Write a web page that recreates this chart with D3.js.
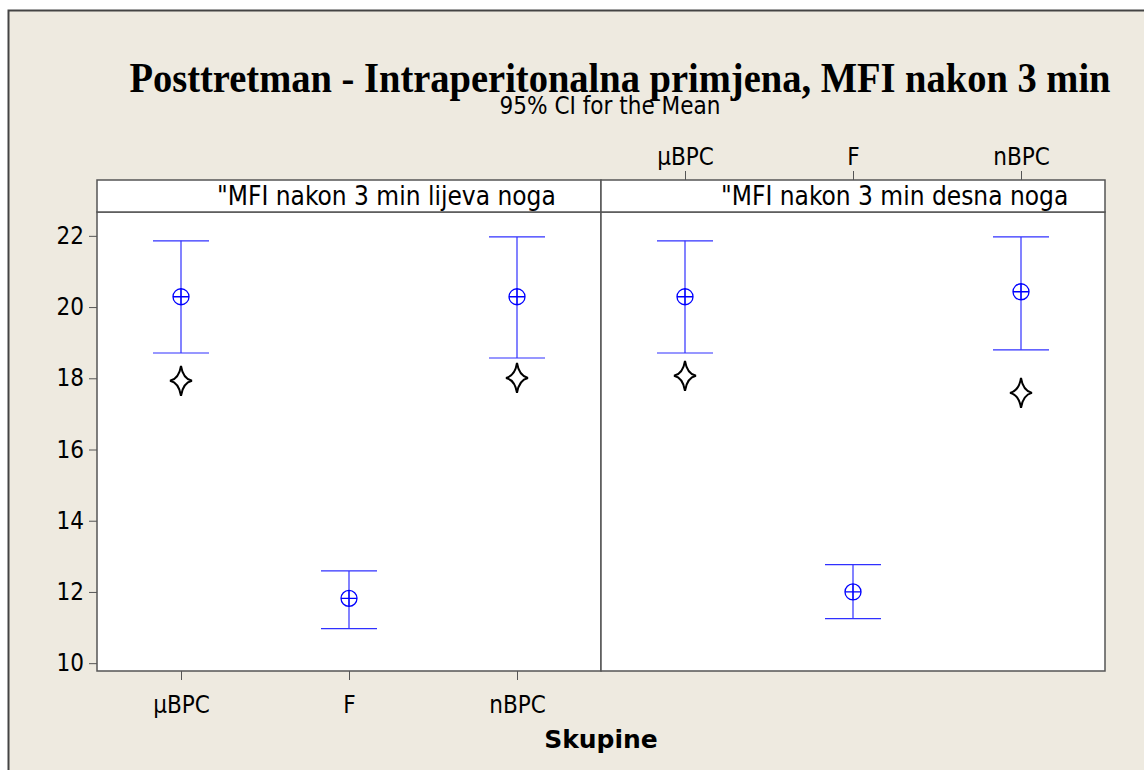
<!DOCTYPE html>
<html>
<head>
<meta charset="utf-8">
<script src="https://cdn.jsdelivr.net/npm/d3@7"></script>
<style>
html,body{margin:0;padding:0;background:#fff;overflow:hidden;}
svg{display:block;}
svg text{font-family:"DejaVu Sans Condensed","DejaVu Sans",sans-serif;}
</style>
</head>
<body>
<div id="chart"></div>
<script>
// chart data
var groups = ["\u00b5BPC", "F", "nBPC"];
var panelNames = ["\"MFI nakon 3 min lijeva noga", "\"MFI nakon 3 min desna noga"];
var leftMean = [20.29, 11.82, 20.29];
var leftLow = [18.71, 10.97, 18.57];
var leftHigh = [21.86, 12.59, 21.97];
var leftStar = [17.93, null, 18.01];
var rightMean = [20.29, 12.0, 20.43];
var rightLow = [18.71, 11.25, 18.80];
var rightHigh = [21.86, 12.77, 21.97];
var rightStar = [18.07, null, 17.59];
var yTicks = [10, 12, 14, 16, 18, 20, 22];

var W = 1144, H = 770;
var bg = "#EEEAE0";
var frame = "#555555";
var ciColor = "#3030ff";

var svg = d3.select("#chart").append("svg")
	.attr("width", W).attr("height", H);

// background and outer frame (only left and top edges are visible)
svg.append("rect").attr("x", 0).attr("y", 0).attr("width", W).attr("height", H).attr("fill", "#fff");
svg.append("rect").attr("x", 8).attr("y", 10).attr("width", W - 8).attr("height", H - 10).attr("fill", bg);
svg.append("path").attr("d", "M8.5," + H + "V10.5H" + W)
	.attr("fill", "none").attr("stroke", "#444").attr("stroke-width", 2);

var plotTop = 212, plotBottom = 671, stripTop = 180;
var panelX = [97, 601];
var panelW = 504;

var y = d3.scaleLinear().domain([9.78, 22.67]).range([plotBottom, plotTop]);

// titles
svg.append("text").attr("transform", "translate(620,92) scale(0.917,1)")
	.attr("text-anchor", "middle")
	.style("font-family", "'Liberation Serif','Times New Roman',serif")
	.style("font-weight", "bold").style("font-size", "42px")
	.text("Posttretman - Intraperitonalna primjena, MFI nakon 3 min");
svg.append("text").attr("x", 610).attr("y", 114).attr("text-anchor", "middle")
	.style("font-size", "24px")
	.text("95% CI for the Mean");

var panels = [
	{name: panelNames[0], mean: leftMean, lo: leftLow, hi: leftHigh, star: leftStar},
	{name: panelNames[1], mean: rightMean, lo: rightLow, hi: rightHigh, star: rightStar}
];

panels.forEach(function(p, k){
	var x0 = panelX[k];
	var x = d3.scalePoint().domain(groups).range([x0, x0 + panelW]).padding(0.5);
	var g = svg.append("g");

	// panel + strip
	g.append("rect").attr("x", x0).attr("y", plotTop).attr("width", panelW).attr("height", plotBottom - plotTop)
		.attr("fill", "#fff").attr("stroke", frame).attr("stroke-width", 1.5);
	g.append("rect").attr("x", x0).attr("y", stripTop).attr("width", panelW).attr("height", plotTop - stripTop)
		.attr("fill", "#fff").attr("stroke", frame).attr("stroke-width", 1.5);
	g.append("text").attr("x", x0 + 120).attr("y", plotTop - 7)
		.style("font-size", "26px").text(p.name);

	var rows = groups.map(function(d, i){
		return {g: d, m: p.mean[i], lo: p.lo[i], hi: p.hi[i], s: p.star[i]};
	});

	// CI lines
	g.selectAll(".ci").data(rows).enter().append("line")
		.attr("x1", function(d){ return x(d.g); }).attr("x2", function(d){ return x(d.g); })
		.attr("y1", function(d){ return y(d.lo); }).attr("y2", function(d){ return y(d.hi); })
		.attr("stroke", ciColor).attr("stroke-width", 1.2);
	["lo", "hi"].forEach(function(key){
		g.selectAll(".cap" + key).data(rows).enter().append("line")
			.attr("x1", function(d){ return x(d.g) - 28; }).attr("x2", function(d){ return x(d.g) + 28; })
			.attr("y1", function(d){ return y(d[key]); }).attr("y2", function(d){ return y(d[key]); })
			.attr("stroke", ciColor).attr("stroke-width", 1.2);
	});
	// mean symbol (circle with cross)
	var sym = g.selectAll(".mean").data(rows).enter().append("g")
		.attr("transform", function(d){ return "translate(" + x(d.g) + "," + y(d.m) + ")"; });
	sym.append("circle").attr("r", 8).attr("fill", "none").attr("stroke", "#0000ff").attr("stroke-width", 1.3);
	sym.append("path").attr("d", "M-8,0H8M0,-8V8").attr("stroke", "#0000ff").attr("stroke-width", 1.3);

	// stars
	g.selectAll(".star").data(rows.filter(function(d){ return d.s != null; })).enter().append("path")
		.attr("transform", function(d){ return "translate(" + x(d.g) + "," + y(d.s) + ")"; })
		.attr("d", "M0,-15Q2,-2 11,0Q2,2 0,15Q-2,2 -11,0Q-2,-2 0,-15Z")
		.attr("fill", "#fff").attr("stroke", "#000").attr("stroke-width", 2);

	// x axis: bottom on left panel, top on right panel
	if(k == 0){
		var ax = g.append("g").attr("transform", "translate(0," + plotBottom + ")")
			.call(d3.axisBottom(x).tickSize(9).tickPadding(16));
		ax.select(".domain").remove();
		ax.selectAll("line").attr("stroke", frame);
		ax.selectAll("text").style("font-size", "24px").style("font-family", null).attr("fill", "#000");
	}else{
		var ax2 = g.append("g").attr("transform", "translate(0," + stripTop + ")")
			.call(d3.axisTop(x).tickSize(9).tickPadding(6));
		ax2.select(".domain").remove();
		ax2.selectAll("line").attr("stroke", frame);
		ax2.selectAll("text").style("font-size", "24px").style("font-family", null).attr("fill", "#000");
	}
});

// y axis
var ay = svg.append("g").attr("transform", "translate(" + panelX[0] + ",0)")
	.call(d3.axisLeft(y).tickValues(yTicks).tickSize(8).tickPadding(5));
ay.select(".domain").remove();
ay.selectAll("line").attr("stroke", frame);
ay.selectAll("text").style("font-size", "24px").style("font-family", null).attr("fill", "#000");

// x axis title
svg.append("text").attr("x", 601).attr("y", 748).attr("text-anchor", "middle")
	.style("font-family", "'DejaVu Sans',sans-serif")
	.style("font-weight", "bold").style("font-size", "25px").text("Skupine");
</script>
</body>
</html>
